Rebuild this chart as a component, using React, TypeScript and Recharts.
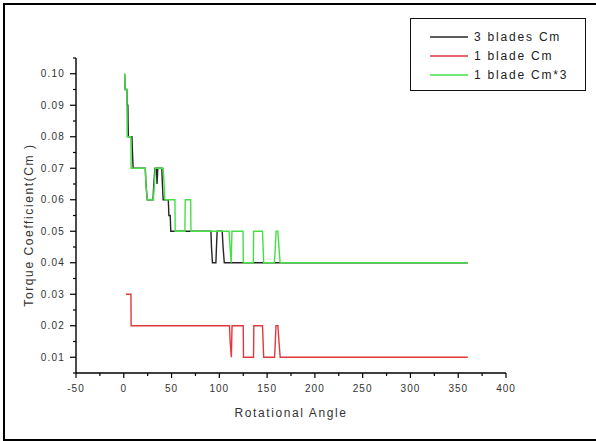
import { Label, Legend, Line, LineChart, XAxis, YAxis } from "recharts";

// Torque coefficient vs rotational angle, read as step-like breakpoints.
const angle3Blades = [
  0.9, 1.4, 3.2, 3.5, 4.3, 4.5, 4.8, 8.6, 9.1, 9.8, 22.5, 23.2, 24.6, 30.6, 31.4, 32.6, 34.2, 34.8,
  35.6, 39.8, 40.4, 41.2, 46.6, 47.2, 48.6, 49.2, 91.2, 91.8, 92.8, 96.4, 97.0, 97.7, 103.0, 103.9,
  105.2, 360,
];
const cm3Blades = [
  0.1, 0.095, 0.095, 0.09, 0.09, 0.085, 0.08, 0.08, 0.075, 0.07, 0.07, 0.065, 0.06, 0.06, 0.065, 0.07,
  0.07, 0.065, 0.07, 0.07, 0.065, 0.06, 0.06, 0.055, 0.055, 0.05, 0.05, 0.045, 0.04, 0.04, 0.045, 0.05,
  0.05, 0.045, 0.04, 0.04,
];

const angle1Blade = [
  2.3, 7.5, 7.7, 110.6, 111.3, 112.6, 113.3, 125.0, 125.3, 135.8, 136.1, 145.2, 145.8, 146.4, 157.8,
  158.6, 159.3, 161.3, 162.4, 163.7, 360,
];
const cm1Blade = [
  0.03, 0.03, 0.02, 0.02, 0.015, 0.01, 0.02, 0.02, 0.01, 0.01, 0.02, 0.02, 0.015, 0.01, 0.01, 0.015,
  0.02, 0.02, 0.015, 0.01, 0.01,
];

const angle1BladeX3 = [
  0.9, 1.4, 3.2, 3.5, 7.4, 7.7, 22.5, 23.2, 24.6, 31.0, 32.0, 33.0, 41.2, 42.2, 43.0, 53.5, 53.8, 64.0,
  64.3, 70.0, 70.3, 110.2, 111.2, 112.4, 113.2, 124.8, 125.1, 135.6, 135.9, 145.2, 145.8, 146.4, 157.6,
  158.6, 159.4, 161.2, 162.4, 163.6, 360,
];
const cm1BladeX3 = [
  0.1, 0.095, 0.095, 0.08, 0.08, 0.07, 0.07, 0.065, 0.06, 0.06, 0.065, 0.07, 0.07, 0.065, 0.06, 0.06,
  0.05, 0.05, 0.06, 0.06, 0.05, 0.05, 0.045, 0.04, 0.05, 0.05, 0.04, 0.04, 0.05, 0.05, 0.045, 0.04,
  0.04, 0.045, 0.05, 0.05, 0.045, 0.04, 0.04,
];

const xTicks = [-50, -25, 0, 25, 50, 75, 100, 125, 150, 175, 200, 225, 250, 275, 300, 325, 350, 375, 400];
const yTicks = [
  0.005, 0.01, 0.015, 0.02, 0.025, 0.03, 0.035, 0.04, 0.045, 0.05, 0.055, 0.06, 0.065, 0.07, 0.075,
  0.08, 0.085, 0.09, 0.095, 0.1, 0.105,
];

const FONT = '"Liberation Sans", Arial, sans-serif';

function zip(angles: number[], values: number[]) {
  return angles.map((angle, i) => ({ angle, cm: values[i] }));
}

const series = [
  { name: "3 blades Cm", color: "#262626", data: zip(angle3Blades, cm3Blades) },
  { name: "1 blade Cm", color: "#e0393c", data: zip(angle1Blade, cm1Blade) },
  { name: "1 blade Cm*3", color: "#45e045", data: zip(angle1BladeX3, cm1BladeX3) },
];

function XTick({ x, y, payload }: any) {
  const major = payload.value % 50 === 0;
  return (
    <g>
      <line x1={x} x2={x} y1={y} y2={y + (major ? 5 : 3)} stroke="#000" strokeWidth={1.2} />
      {major && (
        <text x={x} y={y + 19} textAnchor="middle" fontSize={10} letterSpacing={1} fill="#333" fontFamily={FONT}>
          {payload.value}
        </text>
      )}
    </g>
  );
}

function YTick({ x, y, payload }: any) {
  const major = Math.round(payload.value * 1000) % 10 === 0;
  return (
    <g>
      <line x1={x} x2={x - (major ? 6 : 3)} y1={y} y2={y} stroke="#000" strokeWidth={1.2} />
      {major && (
        <text x={x - 11} y={y} dy={3.5} textAnchor="end" fontSize={10} letterSpacing={1.2} fill="#333" fontFamily={FONT}>
          {payload.value.toFixed(2)}
        </text>
      )}
    </g>
  );
}

// Legend keeps the series order (Recharts would sort it by name).
function LegendBox() {
  return (
    <div
      style={{
        width: 176,
        height: 73,
        boxSizing: "border-box",
        border: "1.5px solid #111",
        background: "#fff",
        paddingTop: 8,
        fontFamily: FONT,
      }}
    >
      {series.map((s) => (
        <div key={s.name} style={{ display: "flex", alignItems: "center", height: 19 }}>
          <svg width={58} height={4} style={{ flex: "none" }}>
            <line x1={19} x2={57} y1={2} y2={2} stroke={s.color} strokeWidth={1.5} />
          </svg>
          <span style={{ marginLeft: 5, fontSize: 12, letterSpacing: 1.8, color: "#222", whiteSpace: "nowrap" }}>
            {s.name}
          </span>
        </div>
      ))}
    </div>
  );
}

export default function App() {
  return (
    <div style={{ position: "absolute", left: 0, top: 0, width: 596, height: 441, overflow: "hidden", background: "#fff" }}>
      <div
        style={{
          position: "absolute",
          left: 3,
          top: 3,
          width: 620,
          height: 438,
          boxSizing: "border-box",
          border: "2px solid #000",
        }}
      />
      <LineChart width={596} height={441} margin={{ top: 58, right: 90, bottom: 18, left: 16 }}>
        <XAxis
          dataKey="angle"
          type="number"
          domain={[-50, 400]}
          ticks={xTicks}
          interval={0}
          allowDataOverflow
          height={50}
          tickSize={0}
          tickMargin={0}
          tickLine={false}
          tick={<XTick />}
          axisLine={{ stroke: "#000", strokeWidth: 1.4 }}
        >
          <Label
            content={({ viewBox }: any) => (
              <text
                x={viewBox.x + viewBox.width / 2}
                y={viewBox.y + 44}
                textAnchor="middle"
                fontSize={12}
                letterSpacing={1.6}
                fill="#333"
                fontFamily={FONT}
              >
                Rotational Angle
              </text>
            )}
          />
        </XAxis>
        <YAxis
          type="number"
          domain={[0.005, 0.105]}
          ticks={yTicks}
          interval={0}
          allowDataOverflow
          width={60}
          tickSize={0}
          tickMargin={0}
          tickLine={false}
          tick={<YTick />}
          axisLine={{ stroke: "#000", strokeWidth: 1.4 }}
        >
          <Label
            content={({ viewBox }: any) => {
              const cx = viewBox.x + 13;
              const cy = 225;
              return (
                <text
                  x={cx}
                  y={cy}
                  transform={`rotate(-90 ${cx} ${cy})`}
                  textAnchor="middle"
                  dominantBaseline="central"
                  fontSize={12}
                  letterSpacing={1.6}
                  fill="#333"
                  fontFamily={FONT}
                >
                  Torque Coefficient(Cm )
                </text>
              );
            }}
          />
        </YAxis>
        <Legend
          layout="vertical"
          align="center"
          verticalAlign="middle"
          content={<LegendBox />}
          wrapperStyle={{ left: 410, top: 18, width: 176, height: 73 }}
        />
        {series.map((s) => (
          <Line
            key={s.name}
            data={s.data}
            dataKey="cm"
            name={s.name}
            type="linear"
            stroke={s.color}
            strokeWidth={1.4}
            dot={false}
            activeDot={false}
            isAnimationActive={false}
          />
        ))}
      </LineChart>
    </div>
  );
}
